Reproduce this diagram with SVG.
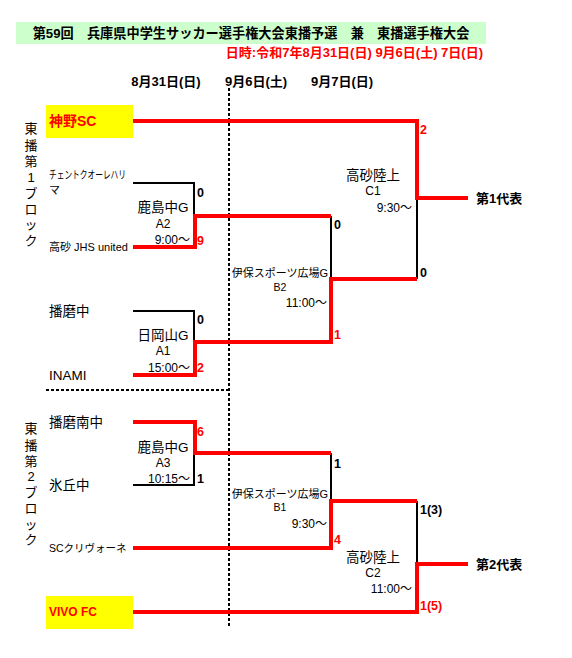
<svg xmlns="http://www.w3.org/2000/svg" width="572" height="658" viewBox="0 0 572 658">
<style>
text{font-family:"Liberation Sans","Noto Sans CJK JP",sans-serif;fill:#000}
.b{font-weight:bold}
.r{fill:#ff0000}
.m{text-anchor:middle}
.e{text-anchor:end}
.red{fill:none;stroke:#ff0000;stroke-width:4;stroke-linejoin:miter}
.blk{fill:none;stroke:#000;stroke-width:2}
.dash{fill:none;stroke:#000;stroke-width:2;stroke-dasharray:3,2}
.sc{font-size:12.5px;font-weight:bold}
.ven{font-size:13.5px}
.sub{font-size:12px}
.tm{font-size:13.5px}
.blab{font-size:13px;text-anchor:middle}
</style>
<rect width="572" height="658" fill="#fff"/>
<g id="title">
<rect x="16" y="22" width="470" height="22" fill="#ccffcc"/>
<text x="251" y="38" class="b m" font-size="13.2">第59回　兵庫県中学生サッカー選手権大会東播予選　兼　東播選手権大会</text>
<text x="483" y="57" class="b r e" font-size="13">日時:令和7年8月31日(日) 9月6日(土) 7日(日)</text>
</g>
<g id="headers" class="b" font-size="13">
<text x="166" y="86" class="m">8月31日(日)</text>
<text x="256" y="86" class="m">9月6日(土)</text>
<text x="342" y="86" class="m">9月7日(日)</text>
</g>
<g id="dividers">
<path class="dash" d="M229,88 V628"/>
<path class="dash" d="M46,390 H229"/>
</g>
<g id="block1-label">
<text x="31" y="133" class="blab">東</text>
<text x="31" y="150" class="blab">播</text>
<text x="31" y="166" class="blab">第</text>
<text x="31" y="182" class="blab">1</text>
<text x="31" y="198" class="blab">ブ</text>
<text x="31" y="214" class="blab">ロ</text>
<text x="31" y="229" class="blab">ッ</text>
<text x="31" y="245" class="blab">ク</text>
</g>
<g id="block2-label">
<text x="31" y="433" class="blab">東</text>
<text x="31" y="450" class="blab">播</text>
<text x="31" y="466" class="blab">第</text>
<text x="31" y="481" class="blab">2</text>
<text x="31" y="497" class="blab">ブ</text>
<text x="31" y="513" class="blab">ロ</text>
<text x="31" y="529" class="blab">ッ</text>
<text x="31" y="544" class="blab">ク</text>
</g>
<g id="connectors">
<path class="blk" d="M133,183 H194 V216"/>
<path class="blk" d="M133,311 H194 V342"/>
<path class="blk" d="M133,485 H194 V453"/>
<path class="blk" d="M331,216 V279"/>
<path class="blk" d="M417,198 V279"/>
<path class="blk" d="M331,453 V501"/>
<path class="blk" d="M417,501 V564"/>
<path class="red" d="M133,121 H417 V198 H468"/>
<path class="red" d="M133,247 H195 V216 H331"/>
<path class="red" d="M133,375 H195 V342 H331 V279 H417"/>
<path class="red" d="M133,422 H195 V453 H331"/>
<path class="red" d="M133,548 H331 V501 H417"/>
<path class="red" d="M133,612 H417 V564 H468"/>
</g>
<g id="team-kanno">
<rect x="46" y="105" width="87" height="33" fill="#ffff00"/>
<text x="49" y="126" class="b r" font-size="14">神野SC</text>
</g>
<g id="team-cento">
<text x="49" y="179" font-size="11" textLength="77" lengthAdjust="spacingAndGlyphs">チェントクオーレハリ</text>
<text x="49" y="194" font-size="11">マ</text>
</g>
<g id="team-takasago"><text x="49" y="251" font-size="11">高砂 JHS united</text></g>
<g id="team-harima"><text x="49" y="316" class="tm">播磨中</text></g>
<g id="team-inami"><text x="49" y="380" class="tm">INAMI</text></g>
<g id="team-harimaminami"><text x="49" y="427" class="tm">播磨南中</text></g>
<g id="team-hyogo"><text x="49" y="490" class="tm">氷丘中</text></g>
<g id="team-sc"><text x="49" y="552" font-size="10.5">SCクリヴォーネ</text></g>
<g id="team-vivo">
<rect x="46" y="596" width="87" height="33" fill="#ffff00"/>
<text x="49" y="616" class="b r" font-size="12">VIVO FC</text>
</g>
<g id="match-A2">
<text x="163" y="212" class="ven m">鹿島中G</text>
<text x="163" y="228" class="sub m">A2</text>
<text x="190" y="244" class="sub e">9:00～</text>
<text x="197" y="197" class="sc">0</text>
<text x="197" y="245" class="sc r">9</text>
</g>
<g id="match-A1">
<text x="163" y="340" class="ven m">日岡山G</text>
<text x="163" y="355" class="sub m">A1</text>
<text x="190" y="372" class="sub e">15:00～</text>
<text x="197" y="324" class="sc">0</text>
<text x="197" y="372" class="sc r">2</text>
</g>
<g id="match-A3">
<text x="163" y="452" class="ven m">鹿島中G</text>
<text x="163" y="467" class="sub m">A3</text>
<text x="190" y="483" class="sub e">10:15～</text>
<text x="197" y="436" class="sc r">6</text>
<text x="197" y="483" class="sc">1</text>
</g>
<g id="match-B2">
<text x="280" y="277" class="m" font-size="11">伊保スポーツ広場G</text>
<text x="280" y="291" class="m" font-size="10.5">B2</text>
<text x="327" y="307" class="sub e">11:00～</text>
<text x="334" y="229" class="sc">0</text>
<text x="334" y="339" class="sc r">1</text>
</g>
<g id="match-B1">
<text x="280" y="498" class="m" font-size="11">伊保スポーツ広場G</text>
<text x="280" y="511" class="m" font-size="10.5">B1</text>
<text x="327" y="528" class="sub e">9:30～</text>
<text x="334" y="468" class="sc">1</text>
<text x="334" y="544" class="sc r">4</text>
</g>
<g id="match-C1">
<text x="373" y="180" class="ven m">高砂陸上</text>
<text x="373" y="195" class="sub m">C1</text>
<text x="412" y="212" class="sub e">9:30～</text>
<text x="420" y="134" class="sc r">2</text>
<text x="420" y="277" class="sc">0</text>
</g>
<g id="match-C2">
<text x="373" y="562" class="ven m">高砂陸上</text>
<text x="373" y="577" class="sub m">C2</text>
<text x="412" y="593" class="sub e">11:00～</text>
<text x="420" y="514" class="sc">1(3)</text>
<text x="420" y="610" class="sc r">1(5)</text>
</g>
<g id="rep1"><text x="476" y="203" class="b" font-size="13">第1代表</text></g>
<g id="rep2"><text x="476" y="569" class="b" font-size="13">第2代表</text></g>
</svg>
